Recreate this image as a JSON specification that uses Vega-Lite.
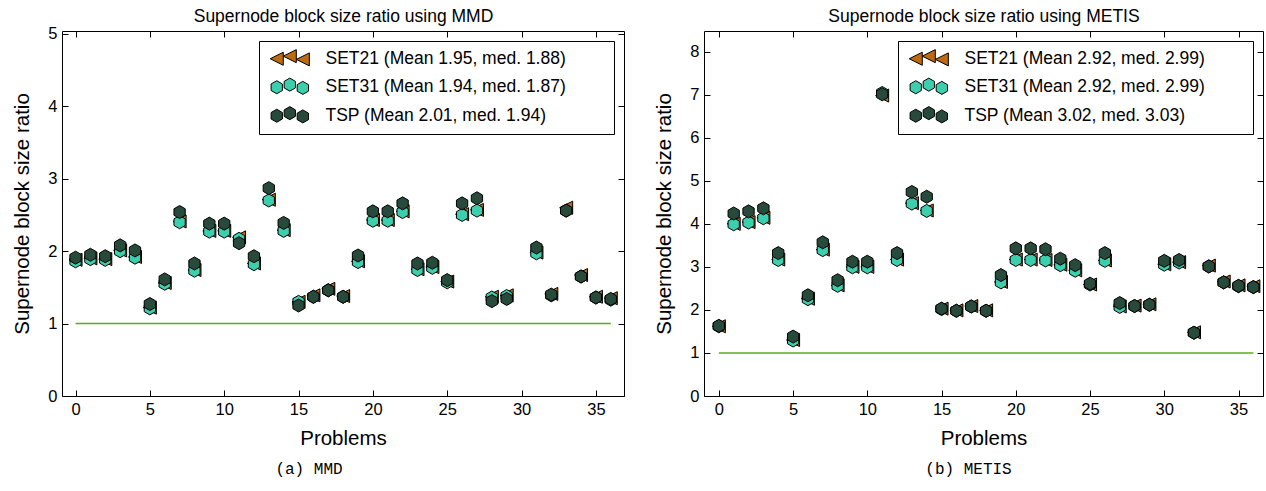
{
  "$schema": "https://vega.github.io/schema/vega-lite/v6.json",
  "background": "white",
  "padding": {"left": 12, "top": 7, "right": 2, "bottom": 8},
  "datasets": {
    "ref": [{"p": 0, "v": 1}, {"p": 36, "v": 1}],
    "mmd": [
      {"p":0,"SET21":1.88,"SET31":1.86,"TSP":1.91},
      {"p":1,"SET21":1.90,"SET31":1.89,"TSP":1.95},
      {"p":2,"SET21":1.89,"SET31":1.88,"TSP":1.93},
      {"p":3,"SET21":2.01,"SET31":2.00,"TSP":2.08},
      {"p":4,"SET21":1.92,"SET31":1.91,"TSP":2.01},
      {"p":5,"SET21":1.22,"SET31":1.21,"TSP":1.27},
      {"p":6,"SET21":1.56,"SET31":1.55,"TSP":1.61},
      {"p":7,"SET21":2.41,"SET31":2.40,"TSP":2.54},
      {"p":8,"SET21":1.74,"SET31":1.73,"TSP":1.83},
      {"p":9,"SET21":2.28,"SET31":2.27,"TSP":2.38},
      {"p":10,"SET21":2.28,"SET31":2.27,"TSP":2.38},
      {"p":11,"SET21":2.19,"SET31":2.17,"TSP":2.11},
      {"p":12,"SET21":1.83,"SET31":1.82,"TSP":1.93},
      {"p":13,"SET21":2.71,"SET31":2.70,"TSP":2.87},
      {"p":14,"SET21":2.29,"SET31":2.28,"TSP":2.39},
      {"p":15,"SET21":1.30,"SET31":1.30,"TSP":1.25},
      {"p":16,"SET21":1.39,"SET31":1.37,"TSP":1.37},
      {"p":17,"SET21":1.48,"SET31":1.46,"TSP":1.46},
      {"p":18,"SET21":1.38,"SET31":1.37,"TSP":1.37},
      {"p":19,"SET21":1.86,"SET31":1.85,"TSP":1.94},
      {"p":20,"SET21":2.43,"SET31":2.42,"TSP":2.55},
      {"p":21,"SET21":2.43,"SET31":2.42,"TSP":2.55},
      {"p":22,"SET21":2.55,"SET31":2.54,"TSP":2.66},
      {"p":23,"SET21":1.75,"SET31":1.74,"TSP":1.83},
      {"p":24,"SET21":1.78,"SET31":1.77,"TSP":1.84},
      {"p":25,"SET21":1.58,"SET31":1.57,"TSP":1.60},
      {"p":26,"SET21":2.51,"SET31":2.50,"TSP":2.66},
      {"p":27,"SET21":2.57,"SET31":2.56,"TSP":2.73},
      {"p":28,"SET21":1.37,"SET31":1.36,"TSP":1.31},
      {"p":29,"SET21":1.39,"SET31":1.38,"TSP":1.34},
      {"p":31,"SET21":1.98,"SET31":1.97,"TSP":2.05},
      {"p":32,"SET21":1.41,"SET31":1.39,"TSP":1.40},
      {"p":33,"SET21":2.60,"SET31":2.56,"TSP":2.56},
      {"p":34,"SET21":1.67,"SET31":1.65,"TSP":1.65},
      {"p":35,"SET21":1.37,"SET31":1.36,"TSP":1.36},
      {"p":36,"SET21":1.35,"SET31":1.33,"TSP":1.34}
    ],
    "metis": [
      {"p":0,"SET21":1.62,"SET31":1.62,"TSP":1.63},
      {"p":1,"SET21":4.00,"SET31":3.99,"TSP":4.24},
      {"p":2,"SET21":4.04,"SET31":4.03,"TSP":4.29},
      {"p":3,"SET21":4.14,"SET31":4.13,"TSP":4.36},
      {"p":4,"SET21":3.17,"SET31":3.16,"TSP":3.32},
      {"p":5,"SET21":1.30,"SET31":1.29,"TSP":1.38},
      {"p":6,"SET21":2.26,"SET31":2.25,"TSP":2.34},
      {"p":7,"SET21":3.40,"SET31":3.39,"TSP":3.57},
      {"p":8,"SET21":2.57,"SET31":2.56,"TSP":2.69},
      {"p":9,"SET21":3.00,"SET31":2.99,"TSP":3.12},
      {"p":10,"SET21":3.00,"SET31":2.99,"TSP":3.12},
      {"p":11,"SET21":6.98,"SET31":7.04,"TSP":7.01},
      {"p":12,"SET21":3.17,"SET31":3.16,"TSP":3.32},
      {"p":13,"SET21":4.48,"SET31":4.47,"TSP":4.74},
      {"p":14,"SET21":4.31,"SET31":4.30,"TSP":4.63},
      {"p":15,"SET21":2.03,"SET31":2.02,"TSP":2.03},
      {"p":16,"SET21":1.99,"SET31":1.98,"TSP":1.98},
      {"p":17,"SET21":2.09,"SET31":2.08,"TSP":2.08},
      {"p":18,"SET21":1.99,"SET31":1.98,"TSP":1.98},
      {"p":19,"SET21":2.65,"SET31":2.64,"TSP":2.81},
      {"p":20,"SET21":3.17,"SET31":3.16,"TSP":3.43},
      {"p":21,"SET21":3.17,"SET31":3.16,"TSP":3.43},
      {"p":22,"SET21":3.16,"SET31":3.15,"TSP":3.41},
      {"p":23,"SET21":3.05,"SET31":3.04,"TSP":3.19},
      {"p":24,"SET21":2.92,"SET31":2.91,"TSP":3.04},
      {"p":25,"SET21":2.59,"SET31":2.59,"TSP":2.61},
      {"p":26,"SET21":3.15,"SET31":3.14,"TSP":3.32},
      {"p":27,"SET21":2.08,"SET31":2.07,"TSP":2.16},
      {"p":28,"SET21":2.10,"SET31":2.09,"TSP":2.09},
      {"p":29,"SET21":2.13,"SET31":2.12,"TSP":2.12},
      {"p":30,"SET21":3.06,"SET31":3.05,"TSP":3.14},
      {"p":31,"SET21":3.11,"SET31":3.10,"TSP":3.16},
      {"p":32,"SET21":1.48,"SET31":1.47,"TSP":1.47},
      {"p":33,"SET21":3.03,"SET31":3.01,"TSP":3.01},
      {"p":34,"SET21":2.66,"SET31":2.64,"TSP":2.64},
      {"p":35,"SET21":2.57,"SET31":2.55,"TSP":2.56},
      {"p":36,"SET21":2.55,"SET31":2.53,"TSP":2.53}
    ]
  },
  "config": {
    "font": "Liberation Sans",
    "view": {"stroke": null},
    "axis": {
      "grid": false,
      "domainColor": "black",
      "domainWidth": 1,
      "tickColor": "black",
      "tickSize": -6,
      "tickWidth": 1,
      "labelFontSize": 16.5,
      "labelColor": "black",
      "labelPadding": 11,
      "titleFontSize": 20.5,
      "titleFontWeight": "normal",
      "titleColor": "black"
    },
    "legend": {
      "title": null, "orient": "top-right", "offset": 10, "padding": 9,
      "strokeColor": "black", "fillColor": "white", "cornerRadius": 0,
      "labelFontSize": 17.5, "labelColor": "black", "labelLimit": 600,
      "symbolSize": 170, "labelOffset": 40, "rowPadding": 7.5,
      "symbolStrokeColor": "black", "symbolStrokeWidth": 1, "symbolOpacity": 1,
      "symbolType": "M0,-1L0.866,-0.5L0.866,0.5L0,1L-0.866,0.5L-0.866,-0.5ZM2,-1.4L2.866,-0.9L2.866,0.1L2,0.6L1.134,0.1L1.134,-0.9ZM4,-0.9L4.866,-0.4L4.866,0.6L4,1.1L3.134,0.6L3.134,-0.4Z"
    },
    "title": {"fontSize": 16, "fontWeight": "normal", "color": "black", "font": "Liberation Mono", "offset": 12}
  },
  "resolve": {"scale": {"fill": "independent", "shape": "independent"}, "legend": {"fill": "independent", "shape": "independent"}},
  "spacing": 29,
  "hconcat": [
    {
      "width": 562,
      "height": 365,
      "title": {"text": "(a) MMD", "orient": "bottom", "dx": -34},
      "resolve": {"axis": {"x": "independent", "y": "independent"}},
      "layer": [
        {
          "data": {"name": "ref"},
          "mark": {"type": "line", "color": "#5aac1e", "strokeWidth": 1.5},
          "encoding": {
            "x": {"field": "p", "type": "quantitative", "scale": {"domain": [-0.91, 36.89], "nice": false, "zero": false},
                  "axis": {"orient": "bottom", "values": [0,5,10,15,20,25,30,35], "title": "Problems", "titlePadding": 11}},
            "y": {"field": "v", "type": "quantitative", "scale": {"domain": [0, 5.04], "nice": false},
                  "axis": {"orient": "left", "values": [0,1,2,3,4,5], "title": "Supernode block size ratio", "titlePadding": 15}}
          }
        },
        {
          "data": {"name": "mmd"},
          "transform": [{"fold": ["SET21", "SET31", "TSP"], "as": ["series", "value"]}],
          "mark": {"type": "point", "filled": true, "stroke": "black", "strokeWidth": 1, "opacity": 1, "size": 170},
          "encoding": {
            "x": {"field": "p", "type": "quantitative", "scale": {"domain": [-0.91, 36.89], "nice": false, "zero": false},
                  "axis": {"orient": "top", "values": [0,5,10,15,20,25,30,35], "labels": false, "title": "Supernode block size ratio using MMD", "titlePadding": 5, "titleFontSize": 17.5}},
            "y": {"field": "value", "type": "quantitative", "scale": {"domain": [0, 5.04], "nice": false},
                  "axis": {"orient": "right", "values": [0,1,2,3,4,5], "labels": false, "title": null}},
            "fill": {"field": "series", "type": "nominal",
                     "scale": {"domain": ["SET21", "SET31", "TSP"], "range": ["#bd6a12", "#3ccfae", "#274a3b"]},
                     "legend": {
                       "labelExpr": "datum.label == 'SET21' ? 'SET21 (Mean 1.95, med. 1.88)⠀⠀⠀' : datum.label == 'SET31' ? 'SET31 (Mean 1.94, med. 1.87)' : 'TSP (Mean 2.01, med. 1.94)'",
                       "encoding": {"symbols": {
                         "shape": {"value": {"expr": "datum.value === 'SET21' ? 'M-1,0L1,-1L1,1ZM1,-0.4L3,-1.4L3,0.6ZM3,0.1L5,-0.9L5,1.1Z' : 'M0,-1L0.866,-0.5L0.866,0.5L0,1L-0.866,0.5L-0.866,-0.5ZM2,-1.4L2.866,-0.9L2.866,0.1L2,0.6L1.134,0.1L1.134,-0.9ZM4,-0.9L4.866,-0.4L4.866,0.6L4,1.1L3.134,0.6L3.134,-0.4Z'"}}
                       }}
                     }},
            "shape": {"field": "series", "type": "nominal",
                      "scale": {"domain": ["TSP", "SET31", "SET21"], "range": ["M0,-1L0.866,-0.5L0.866,0.5L0,1L-0.866,0.5L-0.866,-0.5Z", "M0,-1L0.866,-0.5L0.866,0.5L0,1L-0.866,0.5L-0.866,-0.5Z", "M-1,0L1,-1L1,1Z"]},
                      "legend": null},
            "order": {"field": "series", "type": "nominal"}
          }
        }
      ]
    },
    {
      "width": 559,
      "height": 365,
      "title": {"text": "(b) METIS", "orient": "bottom", "dx": -15},
      "resolve": {"axis": {"x": "independent", "y": "independent"}},
      "layer": [
        {
          "data": {"name": "ref"},
          "mark": {"type": "line", "color": "#5aac1e", "strokeWidth": 1.5},
          "encoding": {
            "x": {"field": "p", "type": "quantitative", "scale": {"domain": [-1.0, 36.65], "nice": false, "zero": false},
                  "axis": {"orient": "bottom", "values": [0,5,10,15,20,25,30,35], "title": "Problems", "titlePadding": 11}},
            "y": {"field": "v", "type": "quantitative", "scale": {"domain": [0, 8.48], "nice": false},
                  "axis": {"orient": "left", "values": [0,1,2,3,4,5,6,7,8], "title": "Supernode block size ratio", "titlePadding": 15}}
          }
        },
        {
          "data": {"name": "metis"},
          "transform": [{"fold": ["SET21", "SET31", "TSP"], "as": ["series", "value"]}],
          "mark": {"type": "point", "filled": true, "stroke": "black", "strokeWidth": 1, "opacity": 1, "size": 170},
          "encoding": {
            "x": {"field": "p", "type": "quantitative", "scale": {"domain": [-1.0, 36.65], "nice": false, "zero": false},
                  "axis": {"orient": "top", "values": [0,5,10,15,20,25,30,35], "labels": false, "title": "Supernode block size ratio using METIS", "titlePadding": 5, "titleFontSize": 17.5}},
            "y": {"field": "value", "type": "quantitative", "scale": {"domain": [0, 8.48], "nice": false},
                  "axis": {"orient": "right", "values": [0,1,2,3,4,5,6,7,8], "labels": false, "title": null}},
            "fill": {"field": "series", "type": "nominal",
                     "scale": {"domain": ["SET21", "SET31", "TSP"], "range": ["#bd6a12", "#3ccfae", "#274a3b"]},
                     "legend": {
                       "labelExpr": "datum.label == 'SET21' ? 'SET21 (Mean 2.92, med. 2.99)⠀⠀⠀' : datum.label == 'SET31' ? 'SET31 (Mean 2.92, med. 2.99)' : 'TSP (Mean 3.02, med. 3.03)'",
                       "encoding": {"symbols": {
                         "shape": {"value": {"expr": "datum.value === 'SET21' ? 'M-1,0L1,-1L1,1ZM1,-0.4L3,-1.4L3,0.6ZM3,0.1L5,-0.9L5,1.1Z' : 'M0,-1L0.866,-0.5L0.866,0.5L0,1L-0.866,0.5L-0.866,-0.5ZM2,-1.4L2.866,-0.9L2.866,0.1L2,0.6L1.134,0.1L1.134,-0.9ZM4,-0.9L4.866,-0.4L4.866,0.6L4,1.1L3.134,0.6L3.134,-0.4Z'"}}
                       }}
                     }},
            "shape": {"field": "series", "type": "nominal",
                      "scale": {"domain": ["TSP", "SET31", "SET21"], "range": ["M0,-1L0.866,-0.5L0.866,0.5L0,1L-0.866,0.5L-0.866,-0.5Z", "M0,-1L0.866,-0.5L0.866,0.5L0,1L-0.866,0.5L-0.866,-0.5Z", "M-1,0L1,-1L1,1Z"]},
                      "legend": null},
            "order": {"field": "series", "type": "nominal"}
          }
        }
      ]
    }
  ]
}
